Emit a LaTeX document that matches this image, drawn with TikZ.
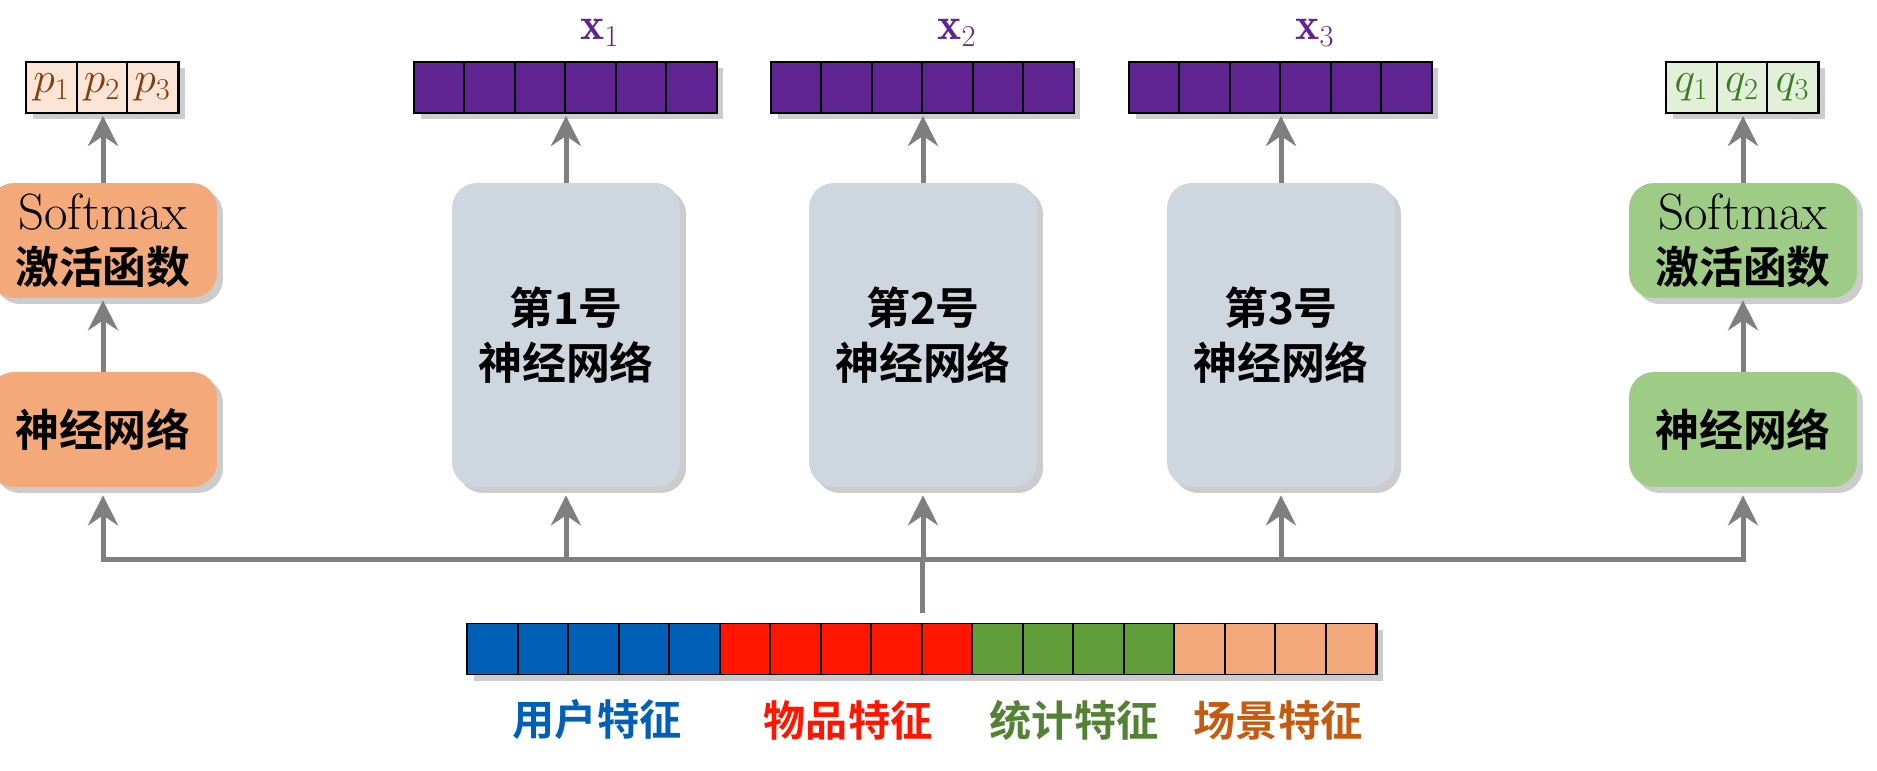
\documentclass[tikz,border=0pt]{standalone}
\usepackage{amsmath,bm}
\usepackage{fontspec}
\newfontfamily\cjk{Noto Sans CJK SC}[BoldFont={Noto Sans CJK SC Bold}]
\usepackage{tikz}
\usetikzlibrary{arrows.meta,shadows,calc}

\definecolor{vecpurple}{RGB}{96,36,146}
\definecolor{featblue}{RGB}{0,96,184}
\definecolor{featred}{RGB}{255,22,0}
\definecolor{featgreen}{RGB}{96,158,58}
\definecolor{featorange}{RGB}{242,168,122}
\definecolor{netgray}{RGB}{206,214,224}
\definecolor{boxorange}{RGB}{243,169,122}
\definecolor{boxgreen}{RGB}{158,203,133}
\definecolor{pcell}{RGB}{251,229,214}
\definecolor{qcell}{RGB}{226,240,217}
\definecolor{ptext}{RGB}{132,60,12}
\definecolor{qtext}{RGB}{56,125,34}
\definecolor{labgreen}{RGB}{84,130,53}
\definecolor{laborange}{RGB}{197,90,17}
\definecolor{pipegray}{RGB}{127,127,127}

\begin{document}
\begin{tikzpicture}[x=0.02cm, y=-0.02cm, >=Stealth,
  pipe/.style={draw=pipegray, line width=0.1cm},
  uparrow/.style={pipe, -{Stealth[length=0.6cm,width=0.6cm,inset=0.2cm]}},
  netbox/.style={rounded corners=0.5cm, minimum width=4.56cm, inner sep=0pt,
    align=center, font=\cjk\bfseries\fontsize{25}{31}\selectfont,
    drop shadow={shadow xshift=0.12cm, shadow yshift=-0.12cm, opacity=0.4}},
  vecbar/.style={draw=black, line width=1.1pt, minimum height=1.02cm, inner sep=0pt,
    drop shadow={shadow xshift=0.12cm, shadow yshift=-0.12cm, opacity=0.4}},
  cell/.style={draw=black, line width=1.1pt, minimum width=1.01cm, minimum height=1.02cm, inner sep=0pt},
  featlab/.style={font=\cjk\bfseries\fontsize{24}{24}\selectfont}]
  \path[use as bounding box, fill=white] (0,0) rectangle (1877,771);

  % Left branch: p
  \node[netbox, fill=boxorange, minimum height=2.3cm] (smL) at (103,240.5) {{\rmfamily\mdseries\fontsize{29}{31}\selectfont Softmax}\\激活函数};
  \node[netbox, fill=boxorange, minimum height=2.3cm] (nnL) at (103,429.5) {神经网络};
  \node[vecbar, minimum width=3.03cm] (pvec) at (103,87.5) {};
  \foreach \i in {1,2,3}
    \node[cell, fill=pcell, text=ptext, font=\fontsize{24}{24}\selectfont] (p\i) at ($(pvec.west)+(\i*50.5-25.25,0)$) {$p_{\i}$};

  % Right branch: q
  \node[netbox, fill=boxgreen, minimum height=2.3cm] (smR) at (1743,240.5) {{\rmfamily\mdseries\fontsize{29}{31}\selectfont Softmax}\\激活函数};
  \node[netbox, fill=boxgreen, minimum height=2.3cm] (nnR) at (1743,429.5) {神经网络};
  \node[vecbar, minimum width=3.03cm] (qvec) at (1743,87.5) {};
  \foreach \i in {1,2,3}
    \node[cell, fill=qcell, text=qtext, font=\fontsize{24}{24}\selectfont] (q\i) at ($(qvec.west)+(\i*50.5-25.25,0)$) {$q_{\i}$};

  % Expert networks and their vectors
  \foreach \c/\k in {566/1, 923/2, 1281/3} {
    \node[netbox, fill=netgray, minimum height=6.08cm] (net\k) at (\c,335) {第{\k}号\\神经网络};
    \node[vecbar, minimum width=6.06cm] (vec\k) at (\c,87.5) {};
    \foreach \i in {1,...,6}
      \node[cell, fill=vecpurple] (vec\k-\i) at ($(vec\k.west)+(\i*50.5-25.25,0)$) {};
    \node[text=vecpurple, font=\fontsize{26}{26}\selectfont] (xlab\k) at (\c+34,33) {$\mathbf{x}_{\k}$};
  }

  % Input features
  \node[vecbar, minimum width=18.18cm] (feat) at (922.5,649) {};
  \foreach \col/\first/\last in {featblue/1/5, featred/6/10, featgreen/11/14, featorange/15/18}
    \foreach \i in {\first,...,\last}
      \node[cell, fill=\col] (f\i) at ($(feat.west)+(\i*50.5-25.25,0)$) {};
  \node[featlab, text=featblue] (labuser) at (597,720) {用户特征};
  \node[featlab, text=featred] (labitem) at (848,720) {物品特征};
  \node[featlab, text=labgreen] (labstat) at (1074,720) {统计特征};
  \node[featlab, text=laborange] (labscene) at (1278,720) {场景特征};

  % Arrows to outputs
  \draw[uparrow, shorten >=0.04cm] (smL.north) -- (pvec.south);
  \draw[uparrow, shorten >=0.04cm] (nnL.north) -- (smL.south);
  \draw[uparrow, shorten >=0.04cm] (smR.north) -- (qvec.south);
  \draw[uparrow, shorten >=0.04cm] (nnR.north) -- (smR.south);
  \foreach \k in {1,2,3}
    \draw[uparrow, shorten >=0.04cm] (net\k.north) -- (vec\k.south);

  % Bus from features to every network
  \coordinate (busL) at (103,559);
  \coordinate (busR) at (1743,559);
  \draw[pipe, shorten <=0.2cm] (f9.north east) -- (f9.north east |- busL);
  \draw[pipe, line cap=rect] (busL) -- (busR);
  \foreach \n in {nnL, net1, net2, net3, nnR}
    \draw[uparrow, shorten >=0.16cm] (\n.south |- busL) -- (\n.south);
\end{tikzpicture}
\end{document}
